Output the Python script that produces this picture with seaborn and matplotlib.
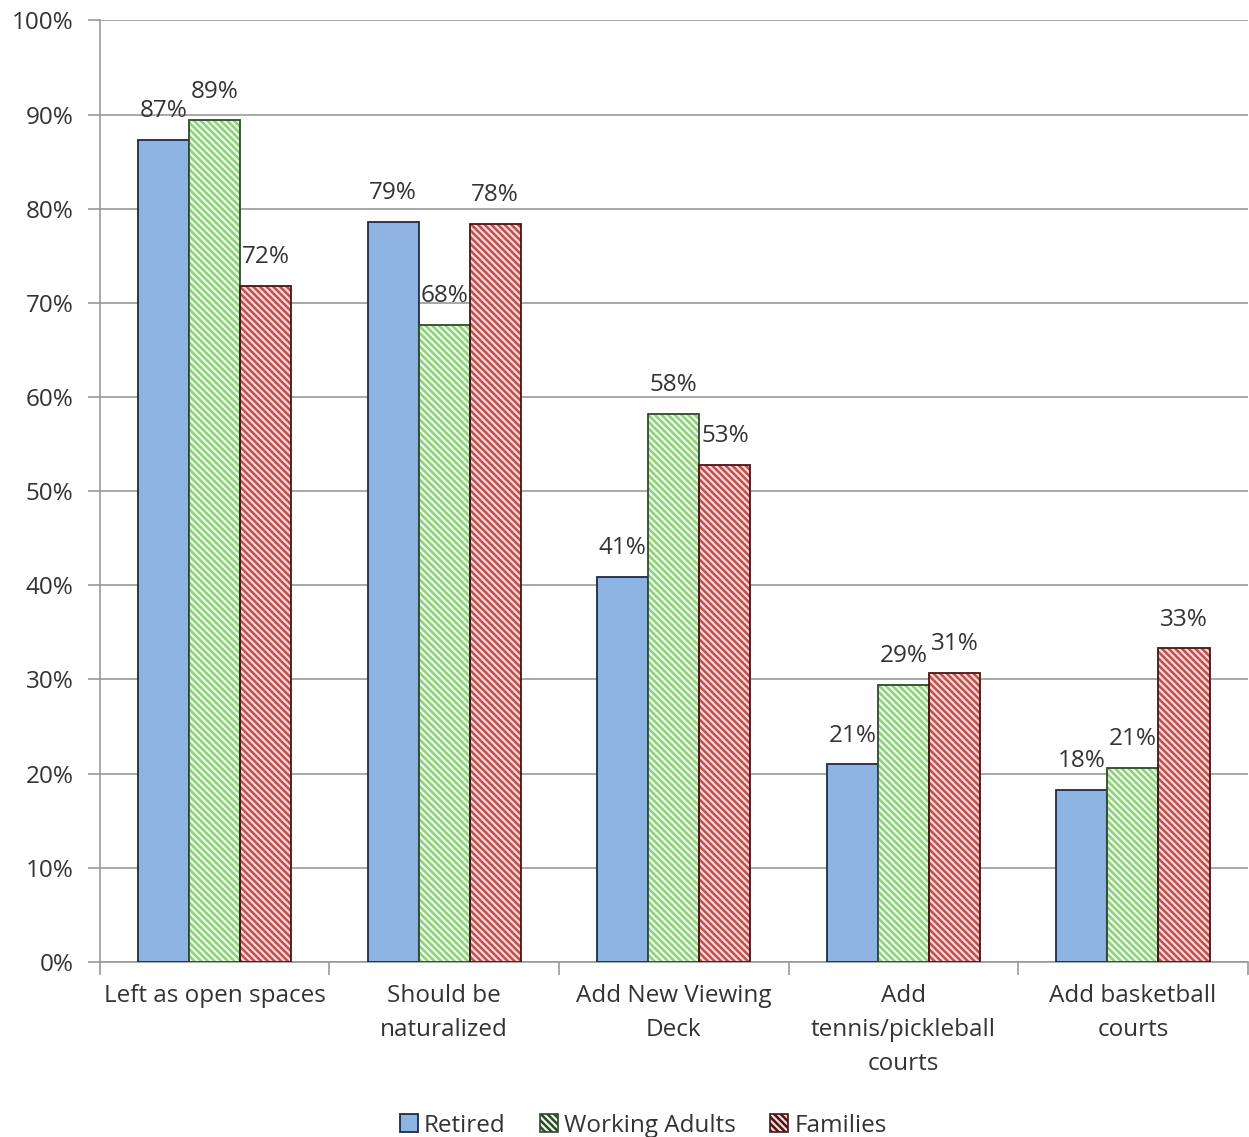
import matplotlib
matplotlib.use("Agg")
import matplotlib.pyplot as plt
from matplotlib.patches import Rectangle, Patch
from matplotlib.ticker import PercentFormatter, FixedLocator
import seaborn as sns
import pandas as pd

categories = ["Left as open spaces", "Should be\nnaturalized", "Add New Viewing\nDeck",
              "Add\ntennis/pickleball\ncourts", "Add basketball\ncourts"]
groups = ["Retired", "Working Adults", "Families"]
retired = [87.3, 78.6, 40.9, 21.0, 18.3]
working = [89.4, 67.7, 58.2, 29.4, 20.6]
families = [71.8, 78.4, 52.8, 30.7, 33.3]

rows = []
for g, vals in zip(groups, [retired, working, families]):
    for c, v in zip(categories, vals):
        rows.append({"cat": c, "group": g, "val": v})
df = pd.DataFrame(rows)

sns.set_theme(style="white")
plt.rcParams["font.family"] = ["Open Sans", "DejaVu Sans"]
plt.rcParams["hatch.linewidth"] = 1.8

FS = 17.5
fig = plt.figure(figsize=(12.49, 11.37), dpi=100)
ax = fig.add_axes([0.080, 0.154, 0.919, 0.828])

HATCH = "\\" * 5
face = {"Retired": "#8DB3E2", "Working Adults": "#EEF8EA", "Families": "#F7D9D8"}
hatchcol = {"Working Adults": "#8FD07A", "Families": "#C0504D"}
edgecol = {"Retired": "#1F2A44", "Working Adults": "#2E4A2A", "Families": "#4A1515"}

sns.barplot(data=df, x="cat", y="val", hue="group", order=categories, hue_order=groups,
            palette=[face[g] for g in groups], width=0.667, ax=ax, legend=False,
            saturation=1, zorder=3)

for cont, g in zip(ax.containers, groups):
    for p in cont.patches:
        x, y = p.get_xy()
        w, h = p.get_width(), p.get_height()
        if g == "Retired":
            p.set_edgecolor(edgecol[g])
            p.set_linewidth(1.3)
        else:
            p.set_facecolor(face[g])
            p.set_edgecolor(hatchcol[g])
            p.set_hatch(HATCH)
            p.set_linewidth(0)
            ax.add_patch(Rectangle((x, y), w, h, fill=False, edgecolor=edgecol[g],
                                   linewidth=1.3, zorder=4))
    labels = [f"{round(v)}%" for v in cont.datavalues]
    ax.bar_label(cont, labels=labels, padding=12, fontsize=FS, color="#333333", zorder=5)

ax.set_ylim(0, 100)
ax.set_xlim(-0.5, 4.5)
ax.yaxis.set_major_locator(FixedLocator(range(0, 101, 10)))
ax.yaxis.set_major_formatter(PercentFormatter(decimals=0))
ax.yaxis.grid(True, color="#9A9A9A", linewidth=1.2, zorder=0)
ax.set_axisbelow(True)
ax.set_xlabel("")
ax.set_ylabel("")
for s in ["top", "right"]:
    ax.spines[s].set_visible(False)
for s in ["left", "bottom"]:
    ax.spines[s].set_color("#9A9A9A")
    ax.spines[s].set_linewidth(1.2)

ax.tick_params(axis="y", which="major", direction="out", length=9, width=1.2, color="#9A9A9A",
               labelsize=FS, labelcolor="#333333", pad=10, left=True)
ax.tick_params(axis="x", which="major", length=0, labelsize=FS, labelcolor="#333333", pad=16)
ax.xaxis.set_minor_locator(FixedLocator([-0.5, 0.5, 1.5, 2.5, 3.5, 4.5]))
ax.tick_params(axis="x", which="minor", direction="out", length=9, width=1.2, color="#9A9A9A", bottom=True)
for t in ax.get_xticklabels():
    t.set_linespacing(1.55)

handles = [Patch(facecolor=face["Retired"], edgecolor=edgecol["Retired"], linewidth=1.3),
           Patch(facecolor=face["Working Adults"], edgecolor=hatchcol["Working Adults"], hatch=HATCH, linewidth=0),
           Patch(facecolor=face["Families"], edgecolor=hatchcol["Families"], hatch=HATCH, linewidth=0)]
leg = fig.legend(handles, groups, loc="lower center", bbox_to_anchor=(0.515, -0.02), ncol=3,
                 frameon=False, fontsize=FS, handlelength=0.75, handleheight=0.75,
                 handletextpad=0.25, columnspacing=1.4, labelcolor="#333333")
for hp, g in zip(leg.get_patches(), groups):
    if g != "Retired":
        hp.set_linewidth(1.2)
        hp.set_edgecolor(edgecol[g])
        hp.set_hatch(HATCH)

fig.savefig("out.png", dpi=100)
